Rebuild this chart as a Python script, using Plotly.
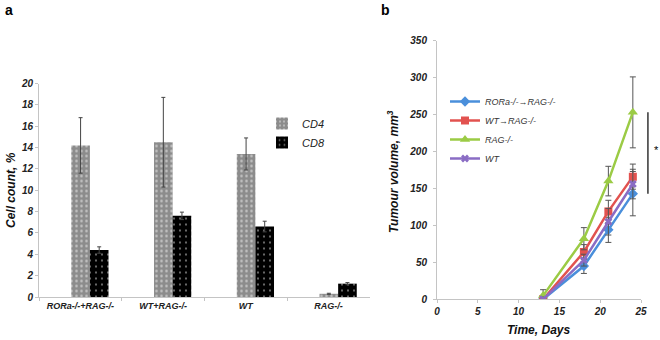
import plotly.graph_objects as go

# ---- panel a data ----
groups = ["RORa-/-+RAG-/-", "WT+RAG-/-", "WT", "RAG-/-"]
cd4 = [14.2, 14.5, 13.4, 0.3]
cd4_err = [2.6, 4.2, 1.5, 0.05]
cd8 = [4.4, 7.6, 6.6, 1.25]
cd8_err = [0.3, 0.35, 0.5, 0.1]

# ---- panel b data ----
days = [13, 18, 21, 24]
rora_rag = [0, 45, 94, 143]
rora_rag_err = [3, 10, 17, 30]
wt_rag = [0, 64, 119, 166]
wt_rag_err = [3, 10, 15, 17]
rag = [5, 82, 160, 253]
rag_err = [8, 15, 20, 48]
wt = [0, 53, 105, 156]
wt_err = [3, 8, 18, 20]

FONT = "Liberation Sans"
AXC = "#c4c4c4"

W, H = 660, 340


def px(xw):
    return xw / W


def py(yw):
    return 1 - yw / H


fig = go.Figure()

fig.add_trace(go.Bar(
    x=groups, y=cd4, name="CD4", xaxis="x", yaxis="y",
    offset=-0.11, width=0.225,
    marker=dict(color="#8c8c8c", line=dict(width=0),
                pattern=dict(shape=".", fgcolor="#ffffff", size=5, solidity=0.2, fillmode="overlay")),
    error_y=dict(type="data", array=cd4_err, color="#444", thickness=1, width=2),
    legend="legend",
))
fig.add_trace(go.Bar(
    x=groups, y=cd8, name="CD8", xaxis="x", yaxis="y",
    offset=0.115, width=0.225,
    marker=dict(color="#000000", line=dict(width=0),
                pattern=dict(shape=".", fgcolor="#ffffff", size=6, solidity=0.1, fillmode="overlay")),
    error_y=dict(type="data", array=cd8_err, color="#444", thickness=1, width=2),
    legend="legend",
))

series = [
    ("RORa-/-→RAG-/-", rora_rag, rora_rag_err, "#4a8fdb", "diamond", 8),
    ("WT→RAG-/-", wt_rag, wt_rag_err, "#e2524f", "square", 8),
    ("RAG-/-", rag, rag_err, "#9bcb45", "triangle-up", 9),
    ("WT", wt, wt_err, "#8a6cc4", "x", 7),
]
for name, vals, errs, col, sym, sz in series:
    fig.add_trace(go.Scatter(
        x=days, y=vals, name=name, xaxis="x2", yaxis="y2", mode="lines+markers",
        line=dict(color=col, width=2.5),
        marker=dict(color=col, symbol=sym, size=sz),
        error_y=dict(type="data", array=errs, color="#555", thickness=1, width=3),
        legend="legend2",
    ))

tickfont = dict(family=FONT, size=10, color="#222", weight="bold", style="italic")

# significance bracket from data at day 24
last_vals = [s[1][-1] for s in series]
y_lo = min(last_vals)
y_hi = max(last_vals)
YMAX = 350

fig.update_layout(
    width=W, height=H,
    margin=dict(l=0, r=0, t=0, b=0, autoexpand=False),
    paper_bgcolor="white", plot_bgcolor="white",
    font=dict(family=FONT, color="#222"),
    showlegend=True,
    xaxis=dict(domain=[px(39), px(370)], type="category", range=[-0.5, 3.5],
               showline=True, linecolor=AXC, linewidth=1,
               ticks="outside", tickson="boundaries", ticklen=3, tickcolor=AXC,
               tickfont=dict(family=FONT, size=9, color="#222", weight="bold", style="italic"),
               showgrid=False, zeroline=False, anchor="y", automargin=False),
    yaxis=dict(domain=[py(297), py(83.5)], range=[0, 20], dtick=2,
               showline=True, linecolor=AXC, linewidth=1,
               ticks="outside", ticklen=3, tickcolor=AXC,
               tickfont=tickfont, showgrid=False, zeroline=False, anchor="x", automargin=False),
    xaxis2=dict(domain=[px(437), px(641)], range=[0, 25], dtick=5,
                showline=True, linecolor=AXC, linewidth=1,
                ticks="outside", ticklen=3, tickcolor=AXC,
                tickfont=tickfont, showgrid=False, zeroline=False, anchor="y2", automargin=False),
    yaxis2=dict(domain=[py(299.3), py(40.7)], range=[0, YMAX], dtick=50,
                showline=True, linecolor=AXC, linewidth=1,
                ticks="outside", ticklen=3, tickcolor=AXC, ticklabelstandoff=4,
                tickfont=tickfont, showgrid=False, zeroline=False, anchor="x2", automargin=False),
    legend=dict(x=px(262), y=py(109), xanchor="left", yanchor="top",
                font=dict(family=FONT, size=11, color="#222", style="italic"),
                bgcolor="rgba(0,0,0,0)", tracegroupgap=1, itemwidth=30),
    legend2=dict(x=px(445), y=py(87), xanchor="left", yanchor="top",
                 font=dict(family=FONT, size=9, color="#333", style="italic"),
                 bgcolor="rgba(0,0,0,0)", itemwidth=30),
    bargap=0.5,
    shapes=[dict(type="line", xref="x2 domain", yref="y2 domain",
                 x0=1.034, x1=1.034, y0=y_lo / YMAX, y1=y_hi / YMAX,
                 line=dict(color="#000", width=1.2))],
    annotations=[
        dict(text="<b>a</b>", x=px(3), y=py(10), xref="paper", yref="paper",
             xanchor="left", yanchor="middle", showarrow=False,
             font=dict(family=FONT, size=14, color="#000")),
        dict(text="<b>b</b>", x=px(379), y=py(10), xref="paper", yref="paper",
             xanchor="left", yanchor="middle", showarrow=False,
             font=dict(family=FONT, size=14, color="#000")),
        dict(text="<b><i>Cell count, %</i></b>", x=px(11), y=py(190),
             xref="paper", yref="paper", textangle=-90, showarrow=False,
             xanchor="center", yanchor="middle",
             font=dict(family=FONT, size=12, color="#111")),
        dict(text="<b><i>Tumour volume, mm<sup>3</sup></i></b>", x=px(393), y=py(172),
             xref="paper", yref="paper", textangle=-90, showarrow=False,
             xanchor="center", yanchor="middle",
             font=dict(family=FONT, size=12, color="#111")),
        dict(text="<b><i>Time, Days</i></b>", x=px(538), y=py(330),
             xref="paper", yref="paper", showarrow=False,
             xanchor="center", yanchor="middle",
             font=dict(family=FONT, size=12, color="#111")),
        dict(text="*", x=px(656), y=py(150), xref="paper", yref="paper",
             showarrow=False, xanchor="center", yanchor="middle",
             font=dict(family=FONT, size=11, color="#000")),
    ],
)

# remove the default page margin so the figure sits at the window's top-left
fig.write_html("out.html", config={"displayModeBar": False},
               post_script="document.body.style.margin='0px';")
